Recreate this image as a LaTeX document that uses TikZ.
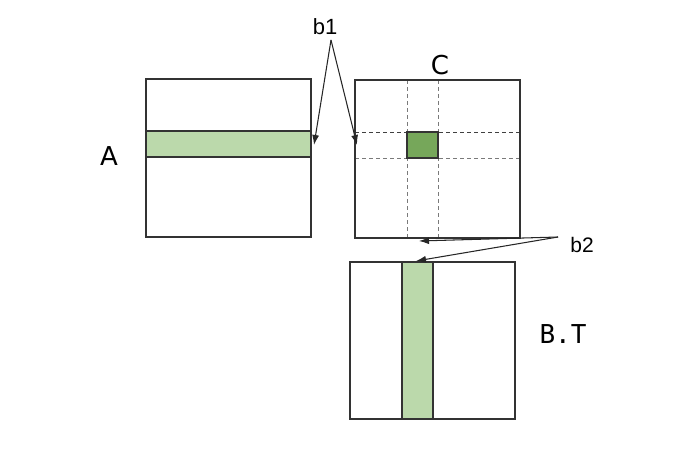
\documentclass[tikz,border=0pt]{standalone}
\usepackage{fontspec}
\setmainfont{Liberation Sans}
\newfontfamily\djv{DejaVu Sans}
\newfontfamily\djvmono{DejaVu Sans Mono}
\usetikzlibrary{arrows.meta}
\definecolor{lightg}{HTML}{BBD9AB}
\definecolor{darkg}{HTML}{76A75A}
\definecolor{dashgray}{HTML}{7A7A7A}
\begin{document}
\begin{tikzpicture}[x=1pt,y=-1pt,
  box/.style={draw=black!80,line width=1.05pt},
  grid/.style={draw=dashgray,line width=1pt,dash pattern=on 4pt off 3pt},
  lbl/.style={inner sep=0pt,outer sep=0pt},
  arr/.style={draw=black!85,line width=1.05pt,-{Latex[length=10pt,width=7pt]}}]
\useasboundingbox (0,0) rectangle (690,468);
% Matrix A
\fill[lightg] (146,131) rectangle (311,157);
\draw[box] (146,131) -- (311,131) (146,157) -- (311,157);
\draw[box] (146,79) rectangle (311,237);
% Matrix C
\draw[grid] (407,80) -- (407,238) (438,80) -- (438,238) (355,158) -- (520,158);
\draw[grid,draw=black!75] (355,132) -- (520,132);
\fill[darkg] (407,132) rectangle (438,158);
\draw[box] (407,132) rectangle (438,158);
\draw[box] (355,80) rectangle (520,238);
% Matrix B.T
\fill[lightg] (402,262) rectangle (433,419);
\draw[box] (402,262) -- (402,419) (433,262) -- (433,419);
\draw[box] (350,262) rectangle (515,419);
% labels
\node[lbl,font=\djv\fontsize{26}{26}\selectfont] (lA) at (109,156) {A};
\node[lbl,font=\djv\fontsize{26}{26}\selectfont] (lC) at (440,65) {C};
\node[lbl,font=\djvmono\fontsize{26}{26}\selectfont] (lBT) at (563,334) {B.T};
\node[lbl,font=\fontsize{22}{22}\selectfont] (b1) at (325,27) {b1};
\node[lbl,font=\fontsize{21}{21}\selectfont] (b2) at (582,245) {b2};
% arrows
\coordinate (b1apex) at (331,40);
\coordinate (tA) at (314,145);
\coordinate (tC) at (357,145);
\coordinate (b2apex) at (558,237);
\coordinate (tCb) at (419,241);
\coordinate (tB) at (416,261);
\draw[arr] (b1apex) -- (tA);
\draw[arr] (b1apex) -- (tC);
\draw[arr] (b2apex) -- (tCb);
\draw[arr] (b2apex) -- (tB);
\end{tikzpicture}
\end{document}
